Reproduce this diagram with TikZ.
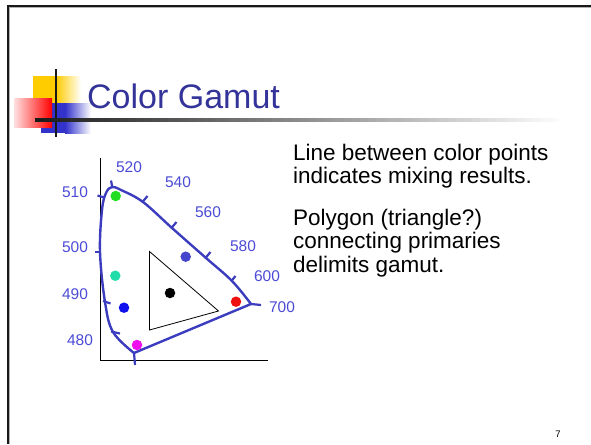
\documentclass[tikz,border=0pt]{standalone}
\usepackage{fontspec}
\setmainfont{Liberation Sans}
\usetikzlibrary{calc}
\definecolor{titleblue}{HTML}{333399}
\definecolor{locus}{HTML}{3C3CBE}
\definecolor{wavelbl}{HTML}{4B4BD6}
\definecolor{logoyellow}{HTML}{FFCC00}
\definecolor{logored}{HTML}{FF0000}
\definecolor{logoblue}{HTML}{3333CC}
\definecolor{dotgreen}{HTML}{22DD22}
\definecolor{dotteal}{HTML}{22DDAA}
\definecolor{dotblue}{HTML}{1111EE}
\definecolor{dotmag}{HTML}{EE11EE}
\definecolor{dotviolet}{HTML}{4444CC}
\definecolor{dotred}{HTML}{EE1111}
\tikzset{
  wl/.style={text=wavelbl, font=\fontsize{15.5}{16}\selectfont, inner sep=0pt},
  body/.style={anchor=base west, inner sep=0pt, font=\fontsize{22.5}{23}\selectfont},
  dot/.style={circle, inner sep=0pt, minimum size=10.5pt},
  tickmark/.style={draw=locus, line width=2.2pt},
}

\begin{document}
\begin{tikzpicture}[x=1pt, y=-1pt]
\useasboundingbox (0,0) rectangle (591,444);
% slide frame
\draw[gray!60, line width=1pt] (8,7.5) -- (591,7.5) (9.5,7) -- (9.5,444);
\draw[black!90, line width=2.3pt] (7,6) -- (591,6) (8,6) -- (8,444);
% logo squares
\fill[logoyellow] (33,76) rectangle (56,104);
\shade[left color=logoyellow, right color=white] (56,76) rectangle (81,104);
\fill[logoblue] (41,103) rectangle (65,133);
\shade[left color=logoblue, right color=white] (65,103) rectangle (91,133);
\shade[left color=red!12, right color=logored] (14,98) rectangle (52,127);
\draw[black!90, line width=2.8pt] (56,69) -- (56,137);
\shade[left color=black!90, middle color=black!40, right color=white] (35,118.8) rectangle (565,121.4);
% title
\node[anchor=base west, inner sep=0pt, text=titleblue, font=\fontsize{34}{36}\selectfont] (title) at (87,108) {Color Gamut};
% axes
\draw[black, line width=0.9pt] (100,158) -- (100,360) -- (268,360);
% spectral locus
\draw[locus, line width=2.4pt, line join=round]
  plot[smooth, tension=0.6] coordinates {(134,353) (113,332) (105,302) (100,252) (102,210) (106,193) (112,187) (121,190) (143,202) (172,228) (206,258) (232,281) (251,304)}
  -- cycle;
% wavelength ticks
\draw[tickmark] (111,180.5) -- (112.5,188);
\draw[tickmark] (97.5,195.5) -- (104.5,197.5);
\draw[tickmark] (142,202.5) -- (147.5,196);
\draw[tickmark] (171,228.5) -- (176.5,222);
\draw[tickmark] (205,258.5) -- (210.5,252);
\draw[tickmark] (231,281.5) -- (235.5,276);
\draw[tickmark] (251,304) -- (261,305);
\draw[tickmark] (95,252) -- (101,252);
\draw[tickmark] (103,301) -- (110.5,303.5);
\draw[tickmark] (111,331.5) -- (120,333.5);
\draw[tickmark] (134,353) -- (135,365);
% wavelength labels
\node[wl] (l520) at (129,167) {520};
\node[wl] (l540) at (178,182) {540};
\node[wl] (l560) at (208,212) {560};
\node[wl] (l580) at (243,246) {580};
\node[wl] (l600) at (267,276) {600};
\node[wl] (l700) at (282,307) {700};
\node[wl] (l510) at (75,192) {510};
\node[wl] (l500) at (75,247) {500};
\node[wl] (l490) at (75,294) {490};
\node[wl] (l480) at (80,340) {480};
% gamut triangle
\draw[black, line width=0.8pt] (149.5,251.5) -- (218.5,311) -- (149.5,330) -- cycle;
% color points
\node[dot, fill=dotgreen] (gD) at (115.7,196) {};
\node[dot, fill=dotteal] (cD) at (115.3,275.7) {};
\node[dot, fill=dotblue] (bD) at (124,307.7) {};
\node[dot, fill=dotmag] (mD) at (137,345) {};
\node[dot, fill=dotviolet] (vD) at (185.7,256.7) {};
\node[dot, fill=black] (kD) at (170,293) {};
\node[dot, fill=dotred] (rD) at (236,301.7) {};
% text
\node[body] (t1) at (293,160) {Line between color points};
\node[body] (t2) at (293,183) {indicates mixing results.};
\node[body] (t3) at (293,225) {Polygon (triangle?)};
\node[body] (t4) at (293,248) {connecting primaries};
\node[body] (t5) at (293,272) {delimits gamut.};
\node[anchor=center, inner sep=0pt, font=\fontsize{9.5}{10}\selectfont] (pgno) at (558,434) {7};
\end{tikzpicture}
\end{document}
